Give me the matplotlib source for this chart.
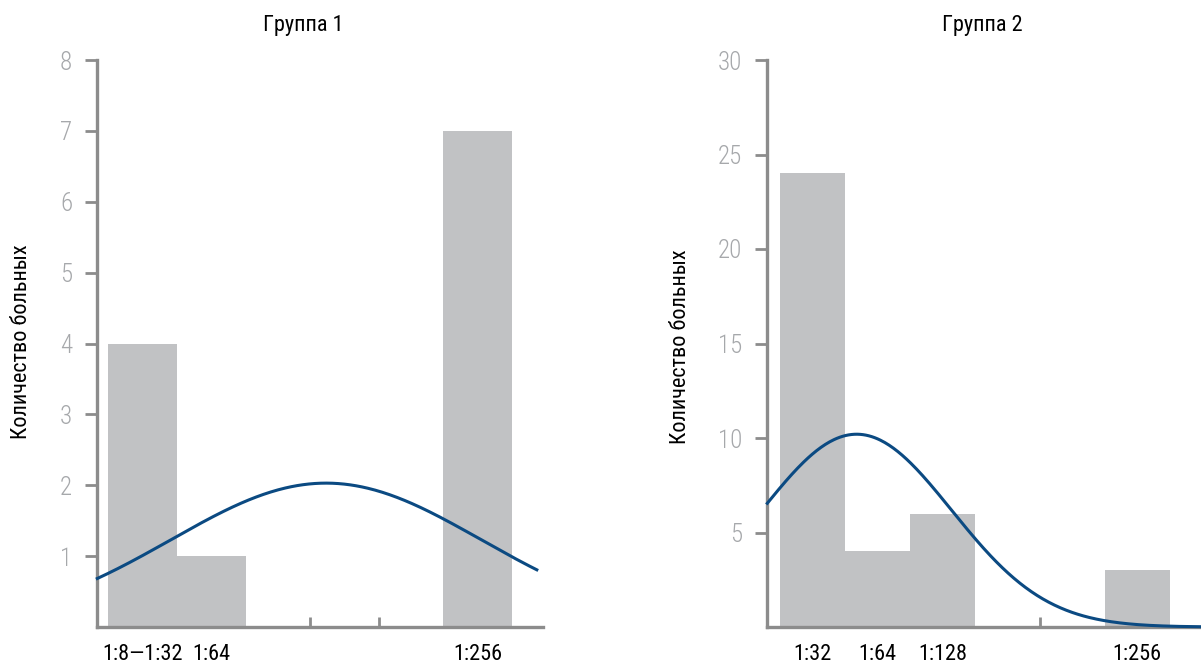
import numpy as np
import matplotlib
matplotlib.use("Agg")
import matplotlib.pyplot as plt
from matplotlib import font_manager

installed = {f.name for f in font_manager.fontManager.ttflist}
main_font = next((f for f in ['Roboto Condensed', 'PT Sans Narrow', 'Liberation Sans Narrow']
                  if f in installed), 'DejaVu Sans')
plt.rcParams['font.family'] = [main_font, 'DejaVu Sans']

# Группа 1
g1_left = [0, 1, 4.88]
g1_counts = [4, 1, 7]
g1_labels = ['1:8—1:32', '1:64', '1:256']
g1_minor = [2.94, 3.94]
g1_fit = (2.03, 3.17, 2.26)   # peak, mean, sd of the normal curve

# Группа 2
g2_left = [0, 1, 2, 5]
g2_counts = [24, 4, 6, 3]
g2_labels = ['1:32', '1:64', '1:128', '1:256']
g2_minor = [4.0]
g2_fit = (10.2, 1.18, 1.46)

bar_col = '#c1c2c4'
line_col = '#0b4a82'
axis_col = '#8c8c8c'
tick_col = '#a6a8ab'

fig = plt.figure(figsize=(12.01, 6.63), dpi=100)

W, H = 1201, 663
bottom = (H - 627) / H
height = (627 - 60) / H
ax1 = fig.add_axes([97.3 / W, bottom, (543 - 97.3) / W, height])
ax2 = fig.add_axes([767.3 / W, bottom, (1201 - 767.3) / W, height])


def draw(ax, left, counts, labels, minor, fit, xlim, curve_end, ymax, yticks):
    ax.bar(left, counts, width=1, align='edge', color=bar_col, zorder=1)
    a, mu, sd = fit
    xs = np.linspace(xlim[0], curve_end, 300)
    ax.plot(xs, a * np.exp(-(xs - mu) ** 2 / (2 * sd ** 2)), color=line_col, lw=2.2, zorder=3,
            clip_on=False)
    ax.set_xlim(*xlim)
    ax.set_ylim(0, ymax)
    centers = [l + 0.5 for l in left]
    ax.set_xticks(centers)
    ax.set_xticklabels(labels, fontsize=16)
    ax.set_xticks(minor, minor=True)
    ax.tick_params(axis='x', which='major', length=0, pad=12)
    ax.tick_params(axis='x', which='minor', direction='in', length=7, width=2, color=axis_col)
    ax.set_yticks(yticks)
    ax.set_yticklabels([str(v) for v in yticks], fontsize=18, color=tick_col, fontweight='light')
    ax.tick_params(axis='y', length=9, width=2, color=axis_col, pad=9)
    for s in ['top', 'right']:
        ax.spines[s].set_visible(False)
    for s in ['left', 'bottom']:
        ax.spines[s].set_color(axis_col)
        ax.spines[s].set_linewidth(2.4)
    ax.spines['left'].set_bounds(0, ymax)


draw(ax1, g1_left, g1_counts, g1_labels, g1_minor, g1_fit,
     (-0.163, 6.33), 6.24, 8, [1, 2, 3, 4, 5, 6, 7, 8])
draw(ax2, g2_left, g2_counts, g2_labels, g2_minor, g2_fit,
     (-0.195, 6.48), 6.48, 30, [5, 10, 15, 20, 25, 30])

fig.text(303 / W, 1 - 26 / H, 'Группа 1', ha='center', va='center', fontsize=16)
fig.text(982 / W, 1 - 26 / H, 'Группа 2', ha='center', va='center', fontsize=16)
fig.text(22 / W, 1 - 342 / H, 'Количество больных', rotation=90, ha='center', va='center', fontsize=16)
fig.text(680 / W, 1 - 347 / H, 'Количество больных', rotation=90, ha='center', va='center', fontsize=16)

fig.savefig('out.png', dpi=100)
